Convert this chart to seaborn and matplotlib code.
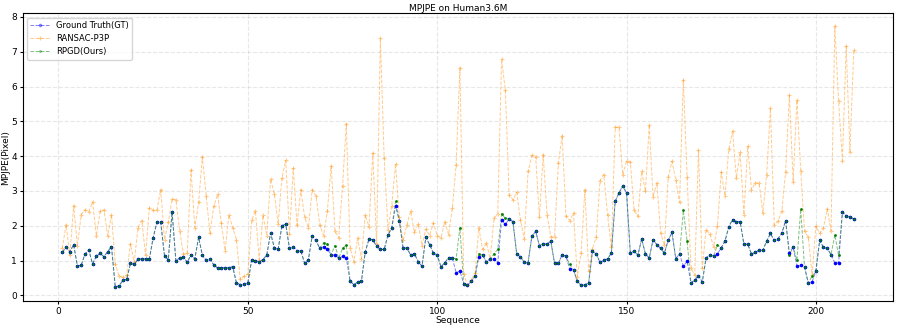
import numpy as np
import pandas as pd
import matplotlib
matplotlib.use("Agg")
import matplotlib.pyplot as plt
import seaborn as sns

# values, sequence index 1..210
gt = [1.24, 1.38, 1.25, 1.46, 0.84, 0.87, 1.19, 1.30, 0.91, 1.12,
      1.21, 1.11, 1.26, 1.40, 0.24, 0.28, 0.43, 0.46, 0.92, 0.89,
      1.05, 1.05, 1.05, 1.05, 1.66, 2.10, 2.10, 1.13, 1.03, 2.40,
      0.99, 1.08, 1.11, 0.95, 1.17, 1.05, 1.67, 1.15, 1.01, 1.04,
      0.88, 0.79, 0.79, 0.80, 0.79, 0.83, 0.36, 0.31, 0.32, 0.36,
      1.01, 1.00, 0.96, 1.03, 1.16, 1.79, 1.37, 1.32, 2.00, 2.05,
      1.35, 1.40, 1.28, 1.28, 0.92, 1.03, 1.71, 1.58, 1.35, 1.40,
      1.32, 1.17, 1.16, 1.07, 1.12, 1.08, 0.41, 0.31, 0.38, 0.41,
      1.25, 1.62, 1.60, 1.41, 1.32, 1.32, 1.73, 1.94, 2.56, 2.15,
      1.36, 1.36, 1.16, 1.19, 0.97, 0.84, 1.67, 1.46, 1.22, 1.16,
      0.82, 0.94, 1.08, 1.08, 0.65, 0.70, 0.34, 0.29, 0.41, 0.55,
      1.11, 1.16, 0.96, 1.05, 1.05, 0.94, 2.16, 2.04, 2.20, 2.12,
      1.19, 1.11, 0.95, 0.94, 1.70, 1.84, 1.43, 1.49, 1.47, 1.56,
      0.92, 0.92, 1.17, 1.13, 0.76, 0.73, 0.41, 0.29, 0.31, 0.36,
      1.27, 1.19, 0.95, 1.01, 1.05, 1.22, 2.70, 2.94, 3.15, 2.94,
      1.22, 1.27, 1.16, 1.62, 1.19, 1.08, 1.60, 1.46, 1.35, 1.22,
      1.58, 1.81, 1.06, 1.19, 0.84, 0.98, 0.36, 0.44, 0.57, 0.39,
      1.07, 1.16, 1.13, 1.19, 1.37, 1.56, 1.97, 2.18, 2.12, 2.12,
      1.47, 1.47, 1.19, 1.24, 1.30, 1.30, 1.56, 1.78, 1.58, 1.63,
      1.78, 2.15, 1.22, 1.39, 0.84, 0.86, 0.81, 0.36, 0.39, 0.70,
      1.58, 1.38, 1.35, 1.17, 0.94, 0.94, 2.39, 2.29, 2.25, 2.20]

ransac = [1.35, 2.03, 1.16, 2.58, 1.43, 2.32, 2.46, 2.41, 2.69, 1.71,
          2.42, 2.46, 1.71, 2.32, 0.89, 0.55, 0.52, 0.58, 1.48, 0.95,
          1.95, 2.15, 1.16, 2.52, 2.44, 2.46, 3.04, 1.60, 2.10, 2.77,
          2.75, 1.86, 1.19, 1.21, 3.60, 1.95, 2.67, 3.98, 2.86, 1.78,
          2.56, 2.90, 2.08, 1.29, 2.31, 1.95, 1.60, 0.46, 0.55, 0.62,
          2.16, 2.43, 1.03, 2.30, 1.72, 3.34, 2.92, 2.05, 3.37, 3.88,
          1.77, 3.66, 2.02, 3.04, 2.25, 1.95, 3.04, 2.86, 2.02, 1.72,
          2.42, 3.72, 1.86, 1.65, 3.13, 4.93, 1.37, 0.96, 1.65, 1.06,
          2.31, 1.97, 4.09, 1.48, 7.38, 3.94, 1.89, 2.58, 3.78, 2.25,
          1.58, 2.03, 2.42, 1.81, 2.05, 1.43, 1.91, 1.72, 2.08, 1.72,
          1.65, 2.12, 1.75, 2.51, 3.75, 6.54, 0.62, 0.29, 0.44, 0.65,
          1.94, 1.32, 1.51, 1.05, 2.21, 2.35, 6.78, 5.90, 2.89, 2.75,
          2.96, 2.16, 1.63, 3.56, 4.02, 3.99, 2.25, 4.04, 2.32, 1.68,
          1.68, 3.80, 4.59, 2.29, 2.15, 2.37, 0.53, 1.22, 3.04, 0.70,
          1.34, 1.68, 3.30, 3.47, 2.30, 1.38, 4.83, 4.83, 3.47, 3.85,
          3.83, 2.46, 2.27, 3.56, 2.99, 4.90, 2.83, 3.23, 1.80, 1.44,
          3.40, 3.85, 3.32, 2.67, 6.19, 3.40, 0.79, 0.58, 4.17, 0.79,
          1.89, 1.77, 1.39, 1.98, 3.54, 2.86, 4.20, 4.72, 3.37, 4.11,
          2.32, 4.28, 3.04, 3.23, 3.23, 2.37, 3.47, 5.37, 2.03, 2.13,
          2.42, 3.54, 5.75, 3.26, 5.61, 3.58, 1.85, 1.67, 0.60, 1.99,
          1.78, 1.94, 2.49, 1.86, 7.73, 5.58, 3.87, 7.16, 4.12, 7.06]

# RPGD follows GT except at these sequence indices
rpgd_diff = {70: 1.51, 71: 1.49, 73: 1.43, 75: 1.35, 76: 1.45, 89: 2.70,
             105: 1.05, 106: 1.94, 111: 1.20, 115: 1.20, 116: 1.32,
             117: 2.35, 118: 2.21, 135: 0.89, 165: 2.44, 166: 1.56,
             174: 1.45, 193: 1.17, 195: 1.01, 196: 2.48, 199: 0.55,
             205: 1.74, 206: 1.15}

seq = np.arange(1, len(gt) + 1)
rpgd = [rpgd_diff.get(s, v) for s, v in zip(seq, gt)]

df = pd.DataFrame({"Sequence": seq, "gt": gt, "ransac": ransac, "rpgd": rpgd})

plt.rcParams.update({"font.size": 6})
fig, ax = plt.subplots(figsize=(8.97, 3.27), dpi=100)

sns.lineplot(data=df, x="Sequence", y="gt", ax=ax, color="blue", marker="o",
             markersize=2.5, markeredgewidth=0, linestyle="--", linewidth=0.7,
             alpha=0.5, label="Ground Truth(GT)")
sns.lineplot(data=df, x="Sequence", y="ransac", ax=ax, color="darkorange", marker="+",
             markersize=3.5, markeredgewidth=0.8, markeredgecolor="darkorange",
             linestyle="--", linewidth=0.7, alpha=0.45, label="RANSAC-P3P")
sns.lineplot(data=df, x="Sequence", y="rpgd", ax=ax, color="green", marker="o",
             markersize=2, markeredgewidth=0, linestyle="--", linewidth=0.7,
             alpha=0.5, label="RPGD(Ours)")
# marker dots drawn again on top at full strength
ax.plot(df["Sequence"], df["gt"], "o", color="blue", markersize=2.5, markeredgewidth=0)
ax.plot(df["Sequence"], df["rpgd"], "o", color="green", markersize=1.8, markeredgewidth=0)

ax.set_title("MPJPE on Human3.6M", fontsize=6.5, pad=2)
ax.set_xlabel("Sequence", fontsize=6.5, labelpad=0)
ax.set_ylabel("MPJPE(Pixel)", fontsize=6.5, labelpad=1)
ax.set_ylim(-0.16, 8.1)
ax.set_xticks([0, 50, 100, 150, 200])
ax.set_yticks(range(0, 9))
ax.tick_params(labelsize=6.5, length=2.5, pad=1.5)
ax.grid(True, linestyle="--", alpha=0.3)
ax.legend(loc="upper left", fontsize=6, handlelength=2.3)

fig.subplots_adjust(left=0.0253, right=0.9959, top=0.959, bottom=0.0795)
fig.savefig("out.png", dpi=100)
